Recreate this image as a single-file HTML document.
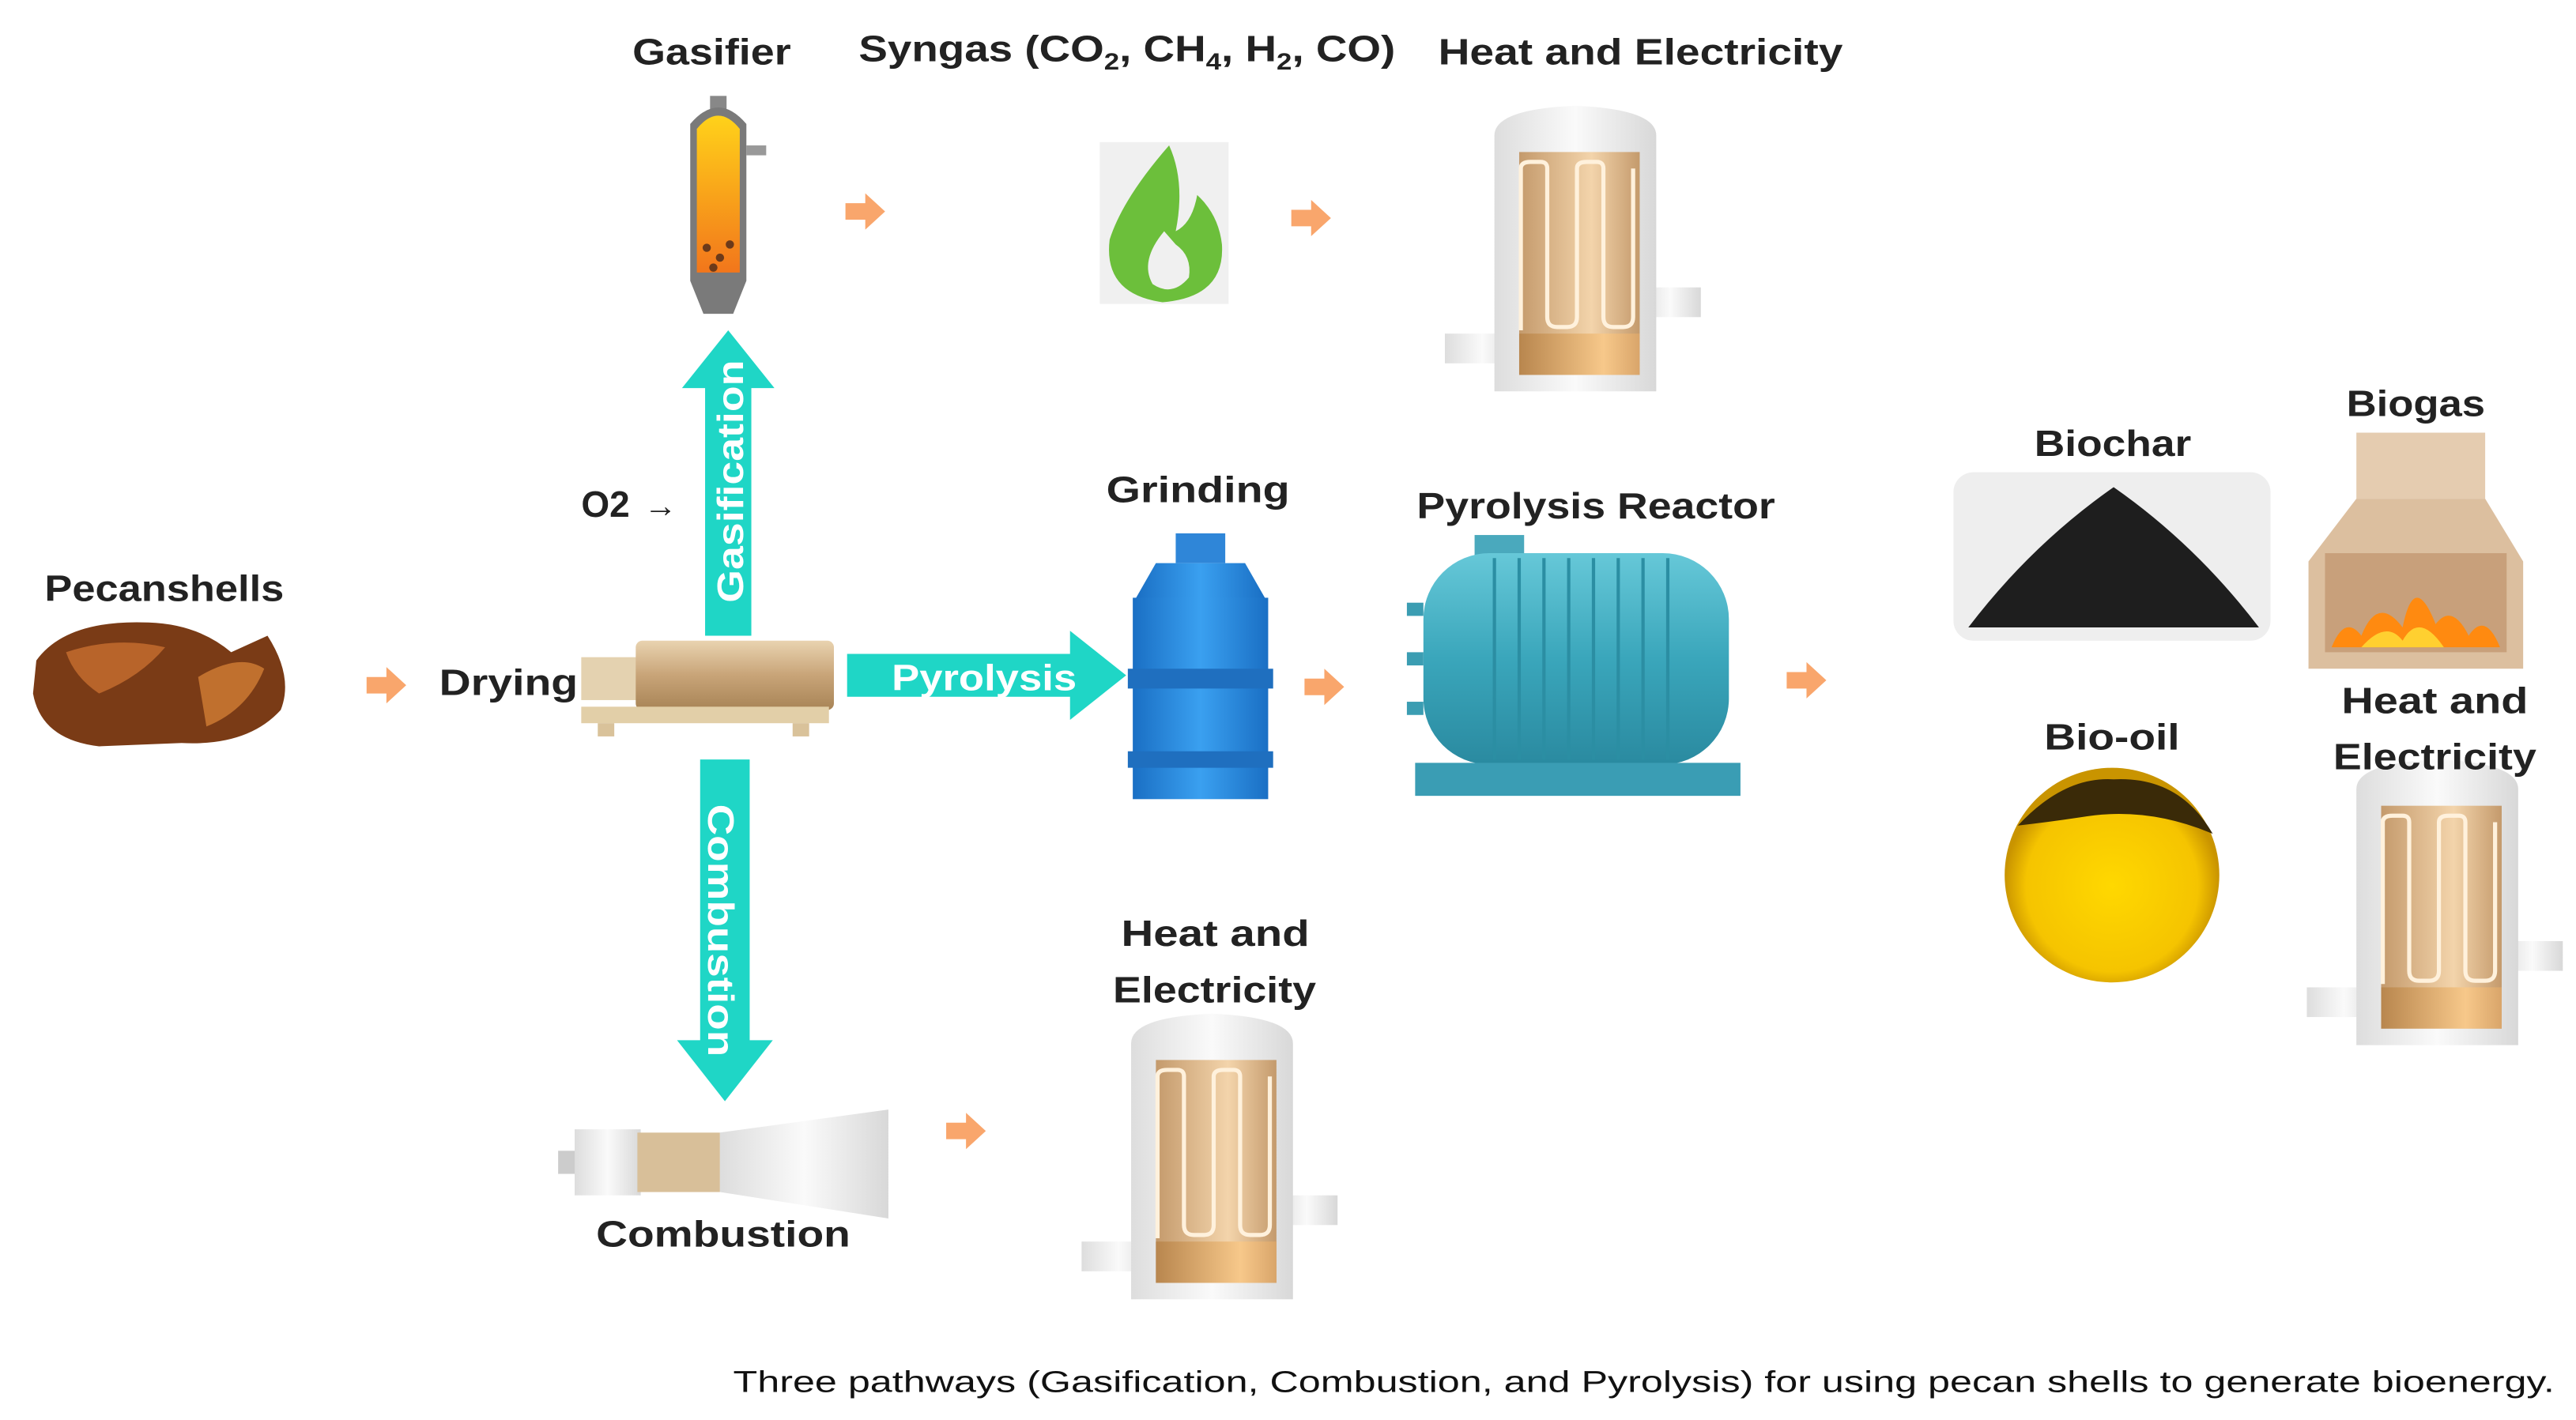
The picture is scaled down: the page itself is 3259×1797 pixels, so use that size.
<!DOCTYPE html>
<html><head><meta charset="utf-8"><style>
html,body{margin:0;padding:0;background:#fff;width:3259px;height:1797px;overflow:hidden}
svg{display:block}
text{font-family:"Liberation Sans","DejaVu Sans",sans-serif;font-weight:bold;fill:#222}
</style></head><body>
<svg width="3259" height="1797" viewBox="0 0 1560 860" xmlns="http://www.w3.org/2000/svg">
<defs>
<linearGradient id="gr" x1="0" x2="1"><stop offset="0" stop-color="#ddd"/><stop offset=".5" stop-color="#fafafa"/><stop offset="1" stop-color="#d8d8d8"/></linearGradient>
<linearGradient id="or" x1="0" x2="1"><stop offset="0" stop-color="#c49a6c"/><stop offset=".6" stop-color="#f3d4ab"/><stop offset="1" stop-color="#c49a6c"/></linearGradient>
<linearGradient id="ob" x1="0" x2="1"><stop offset="0" stop-color="#b8864e"/><stop offset=".7" stop-color="#f7c88a"/><stop offset="1" stop-color="#d9a56a"/></linearGradient>
<linearGradient id="gas" x1="0" y1="0" x2="0" y2="1"><stop offset="0" stop-color="#ffd21a"/><stop offset="1" stop-color="#f2761b"/></linearGradient>
<linearGradient id="blue" x1="0" x2="1"><stop offset="0" stop-color="#1a6fc4"/><stop offset=".5" stop-color="#3aa0f0"/><stop offset="1" stop-color="#1a6fc4"/></linearGradient>
<linearGradient id="teal" x1="0" y1="0" x2="0" y2="1"><stop offset="0" stop-color="#66c8d8"/><stop offset=".5" stop-color="#3aa6bb"/><stop offset="1" stop-color="#2a8aa0"/></linearGradient>
<linearGradient id="tan" x1="0" y1="0" x2="0" y2="1"><stop offset="0" stop-color="#e9d3b0"/><stop offset=".5" stop-color="#c8a478"/><stop offset="1" stop-color="#a88456"/></linearGradient>
<radialGradient id="oil" cx=".5" cy=".55" r=".5"><stop offset="0" stop-color="#ffd800"/><stop offset=".8" stop-color="#f5c400"/><stop offset="1" stop-color="#c99400"/></radialGradient>
<g id="hx">
 <rect x="0" y="140" width="45" height="18" fill="url(#gr)"/>
 <rect x="118" y="112" width="37" height="18" fill="url(#gr)"/>
 <path d="M30 20 Q30 4 79 2 Q128 4 128 20 V175 H30 Z" fill="url(#gr)"/>
 <rect x="45" y="30" width="73" height="135" fill="url(#or)"/>
 <rect x="45" y="140" width="73" height="25" fill="url(#ob)"/>
 <path d="M46 138 V40 Q46 36 52 36 H58 Q62 36 62 40 V130 Q62 136 68 136 H74 Q80 136 80 130 V40 Q80 36 86 36 H92 Q96 36 96 40 V130 Q96 136 102 136 H108 Q114 136 114 130 V40" fill="none" stroke="#fff1dc" stroke-width="2.5"/>
</g>
<g id="arr"><path d="M0 -5 H12 V-11 L24 0 L12 11 V5 H0 Z" fill="#f9a66c"/></g>
</defs>

<text x="27" y="364" font-size="22" textLength="145" lengthAdjust="spacingAndGlyphs">Pecanshells</text>
<path d="M22 400 Q40 375 90 377 Q120 378 140 395 L162 385 Q178 410 170 430 Q150 452 110 450 L60 452 Q25 448 20 420 Z" fill="#7a3b16"/>
<path d="M40 395 Q70 385 100 392 Q85 410 60 420 Q45 410 40 395Z" fill="#b8642a"/>
<path d="M120 410 Q145 395 160 405 Q150 430 125 440Z" fill="#c0702e"/>
<use href="#arr" x="222" y="415"/>
<text x="266" y="421" font-size="22" textLength="84" lengthAdjust="spacingAndGlyphs">Drying</text>

<rect x="352" y="398" width="40" height="26" fill="#e4d2b0"/>
<rect x="385" y="388" width="120" height="42" rx="4" fill="url(#tan)"/>
<rect x="352" y="428" width="150" height="10" fill="#e2cfa8"/>
<rect x="362" y="438" width="10" height="8" fill="#d9c29a"/>
<rect x="480" y="438" width="10" height="8" fill="#d9c29a"/>

<path d="M427 385 V235 H413 L441 200 L469 235 H455 V385 Z" fill="#1fd6c6"/>
<text transform="translate(450 365) rotate(-90)" font-size="22" style="fill:#fff" textLength="147" lengthAdjust="spacingAndGlyphs">Gasification</text>
<path d="M513 396 H648 V382 L682 409 L648 436 V422 H513 Z" fill="#1fd6c6"/>
<text x="540" y="418" font-size="22" style="fill:#fff" textLength="112" lengthAdjust="spacingAndGlyphs">Pyrolysis</text>
<path d="M424 460 H454 V630 H468 L439 667 L410 630 H424 Z" fill="#1fd6c6"/>
<text transform="translate(429 487) rotate(90)" font-size="22" style="fill:#fff" textLength="153" lengthAdjust="spacingAndGlyphs">Combustion</text>
<text x="352" y="313" font-size="22">O2</text>
<text x="390" y="313" font-size="20" style="font-weight:normal">→</text>

<text x="383" y="39" font-size="22" textLength="96" lengthAdjust="spacingAndGlyphs">Gasifier</text>
<rect x="430" y="58" width="10" height="8" fill="#888"/>
<path d="M418 75 Q435 55 452 75 V170 L444 190 H426 L418 170 Z" fill="#7a7a7a"/>
<path d="M422 78 Q435 62 448 78 V165 H422 Z" fill="url(#gas)"/>
<rect x="452" y="88" width="12" height="6" fill="#999"/>
<circle cx="428" cy="150" r="2.5" fill="#6b3a1a"/><circle cx="436" cy="156" r="2.5" fill="#6b3a1a"/><circle cx="442" cy="148" r="2.5" fill="#6b3a1a"/><circle cx="432" cy="162" r="2.5" fill="#6b3a1a"/>
<use href="#arr" x="512" y="128"/>

<text x="520" y="37" font-size="22" textLength="325" lengthAdjust="spacingAndGlyphs">Syngas (CO<tspan font-size="14" dy="5">2</tspan><tspan dy="-5">, CH</tspan><tspan font-size="14" dy="5">4</tspan><tspan dy="-5">, H</tspan><tspan font-size="14" dy="5">2</tspan><tspan dy="-5">, CO)</tspan></text>
<rect x="666" y="86" width="78" height="98" fill="#f0f0f0"/>
<path d="M708 88 Q680 120 672 145 Q668 178 704 183 Q742 180 740 148 Q738 130 725 118 Q722 135 712 140 Q718 110 708 88Z" fill="#6cbf3b"/>
<path d="M705 140 Q690 158 698 172 Q710 180 720 168 Q722 155 712 148Z" fill="#f0f0f0"/>
<use href="#arr" x="782" y="132"/>

<text x="871" y="39" font-size="22" textLength="245" lengthAdjust="spacingAndGlyphs">Heat and Electricity</text>
<use href="#hx" x="875" y="62"/>

<text x="670" y="304" font-size="22" textLength="111" lengthAdjust="spacingAndGlyphs">Grinding</text>
<rect x="712" y="323" width="30" height="18" fill="#2f86d8"/>
<path d="M700 341 H754 L766 362 H688 Z" fill="url(#blue)"/>
<rect x="686" y="362" width="82" height="122" fill="url(#blue)"/>
<rect x="683" y="405" width="88" height="12" fill="#1f6fbf"/>
<rect x="683" y="455" width="88" height="10" fill="#1f6fbf"/>
<use href="#arr" x="790" y="416"/>

<text x="858" y="314" font-size="22" textLength="217" lengthAdjust="spacingAndGlyphs">Pyrolysis Reactor</text>
<rect x="893" y="324" width="30" height="14" fill="#4aa9bd"/>
<rect x="862" y="335" width="185" height="128" rx="40" fill="url(#teal)"/>
<g stroke="#2b8ea3" stroke-width="2">
<line x1="905" y1="338" x2="905" y2="460"/><line x1="920" y1="338" x2="920" y2="460"/><line x1="935" y1="338" x2="935" y2="460"/><line x1="950" y1="338" x2="950" y2="460"/><line x1="965" y1="338" x2="965" y2="460"/><line x1="980" y1="338" x2="980" y2="460"/><line x1="995" y1="338" x2="995" y2="460"/><line x1="1010" y1="338" x2="1010" y2="460"/>
</g>
<rect x="852" y="365" width="10" height="8" fill="#3b9db2"/><rect x="852" y="395" width="10" height="8" fill="#3b9db2"/><rect x="852" y="425" width="10" height="8" fill="#3b9db2"/>
<rect x="857" y="462" width="197" height="20" fill="#3a9db4"/>
<use href="#arr" x="1082" y="412"/>

<text x="1232" y="276" font-size="22" textLength="95" lengthAdjust="spacingAndGlyphs">Biochar</text>
<rect x="1183" y="286" width="192" height="102" rx="12" fill="#eeeeee"/>
<path d="M1192 380 Q1230 330 1280 295 Q1330 330 1368 380 Z" fill="#1e1e1e"/>
<text x="1421" y="252" font-size="22" textLength="84" lengthAdjust="spacingAndGlyphs">Biogas</text>
<rect x="1427" y="262" width="78" height="40" fill="#e5ccb0"/>
<path d="M1427 302 L1398 340 V405 H1528 V340 L1505 302 Z" fill="#dcbf9f"/>
<rect x="1408" y="335" width="110" height="60" fill="#c8a07b"/>
<path d="M1412 392 Q1420 372 1430 385 Q1440 360 1455 380 Q1462 345 1475 378 Q1485 365 1495 385 Q1505 370 1514 392 Z" fill="#ff8a10"/>
<path d="M1430 392 Q1445 375 1455 388 Q1465 370 1480 392 Z" fill="#ffd030"/>

<text x="1238" y="454" font-size="22" textLength="82" lengthAdjust="spacingAndGlyphs">Bio-oil</text>
<circle cx="1279" cy="530" r="65" fill="url(#oil)"/>
<path d="M1222 500 Q1250 470 1280 472 Q1320 470 1340 505 Q1300 488 1260 495 Q1240 498 1222 500Z" fill="#3a2a08"/>

<use href="#hx" x="1397" y="458"/>
<text x="1418" y="432" font-size="22" textLength="113" lengthAdjust="spacingAndGlyphs">Heat and</text>
<text x="1413" y="466" font-size="22" textLength="123" lengthAdjust="spacingAndGlyphs">Electricity</text>

<rect x="338" y="697" width="12" height="14" fill="#ccc"/>
<rect x="348" y="684" width="40" height="40" fill="url(#gr)"/>
<rect x="386" y="686" width="50" height="36" fill="#d8bf99"/>
<path d="M436 686 L538 672 V738 L436 722 Z" fill="url(#gr)"/>
<text x="361" y="755" font-size="22" textLength="154" lengthAdjust="spacingAndGlyphs">Combustion</text>
<use href="#arr" x="573" y="685"/>
<text x="679" y="573" font-size="22" textLength="114" lengthAdjust="spacingAndGlyphs">Heat and</text>
<text x="674" y="607" font-size="22" textLength="123" lengthAdjust="spacingAndGlyphs">Electricity</text>
<use href="#hx" x="655" y="612"/>

<text x="444" y="843" font-size="18" style="font-weight:normal;fill:#111" textLength="1103" lengthAdjust="spacingAndGlyphs">Three pathways (Gasification, Combustion, and Pyrolysis) for using pecan shells to generate bioenergy.</text>
</svg>
</body></html>
